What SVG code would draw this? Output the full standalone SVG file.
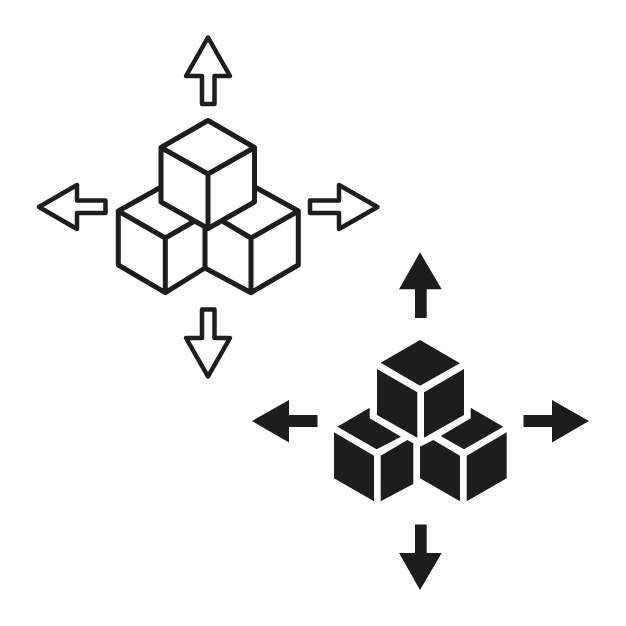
<svg xmlns="http://www.w3.org/2000/svg" width="626" height="626" viewBox="0 0 626 626">
<style>
.o{fill:none;stroke:#1d1d1b;stroke-width:5;stroke-linejoin:round;stroke-linecap:round}
.a{fill:none;stroke:#1d1d1b;stroke-width:4.5;stroke-linejoin:round}
.f{fill:#1d1d1b;stroke:none}
</style>
<rect width="626" height="626" fill="#fff"/>
<g id="outline-cubes">
<g id="outline-cube-left"><path class="o" d="M159.500 188L118.300 211V265L165.300 292.700L205 268V227M118.300 211L165.300 238V292.700M165.300 238L193 222"/></g>
<g id="outline-cube-right"><path class="o" d="M256.700 188L298.300 211V265L251 292.700L205 268M298.300 211L251 238V292.700M251 238L224 222"/></g>
<g id="outline-cube-top"><path class="o" d="M208 120.500L254.500 147.500V202L208 228.500L161 202V147.500ZM161 147.500L208 174L254.500 147.500M208 174V228.500"/></g>
</g>
<g id="outline-arrows">
<g id="outline-arrow-up"><path class="a" d="M208 37.500L230 76H214.500V104H202V76H186Z"/></g>
<g id="outline-arrow-down"><path class="a" d="M208 376.500L230 338H214.500V309.500H202V338H186Z"/></g>
<g id="outline-arrow-left"><path class="a" d="M39 207L77 185V200.500H105.500V213H77V229Z"/></g>
<g id="outline-arrow-right"><path class="a" d="M377.500 207L339 185V200.500H310V213H339V229Z"/></g>
</g>
<g id="solid-cubes">
<g id="solid-cube-left">
<polygon class="f" points="369.700,407.700 369.700,418.300 401,436.700 376.700,449.300 337.300,426.700"/>
<polygon class="f" points="334,432.300 374,455.700 374,501.300 334,478.300"/>
<polygon class="f" points="380.700,455.700 407.300,440 413.300,443.300 413.300,484 380.700,501.300"/>
</g>
<g id="solid-cube-right">
<polygon class="f" points="470.700,407.700 503.300,426.700 464,449.300 440.700,436 470.700,418.300"/>
<polygon class="f" points="420,446.700 433.300,440 460,455.700 460,501.300 420,478.300"/>
<polygon class="f" points="466.700,455.700 506.700,432.300 506.700,478.300 466.700,501.300"/>
</g>
<g id="solid-cube-top">
<polygon class="f" points="420,340 460,363.300 420,385.700 380.700,362.700"/>
<polygon class="f" points="377,369 417.300,392.300 417.300,437.700 377,415"/>
<polygon class="f" points="424,392.300 464,369 464,415 424,437.700"/>
</g>
</g>
<g id="solid-arrows">
<g id="solid-arrow-up"><polygon class="f" points="420,252.300 441.700,289.300 426.700,289.300 426.700,318 415,318 415,289.300 399,289.300"/></g>
<g id="solid-arrow-down"><polygon class="f" points="420,590 441.700,553 426.700,553 426.700,524.500 415,524.500 415,553 399,553"/></g>
<g id="solid-arrow-left"><polygon class="f" points="252,421 289,400 289,415 317.500,415 317.500,427 289,427 289,442.500"/></g>
<g id="solid-arrow-right"><polygon class="f" points="589,421 552,400 552,415 523.500,415 523.500,427 552,427 552,442.500"/></g>
</g>
</svg>
